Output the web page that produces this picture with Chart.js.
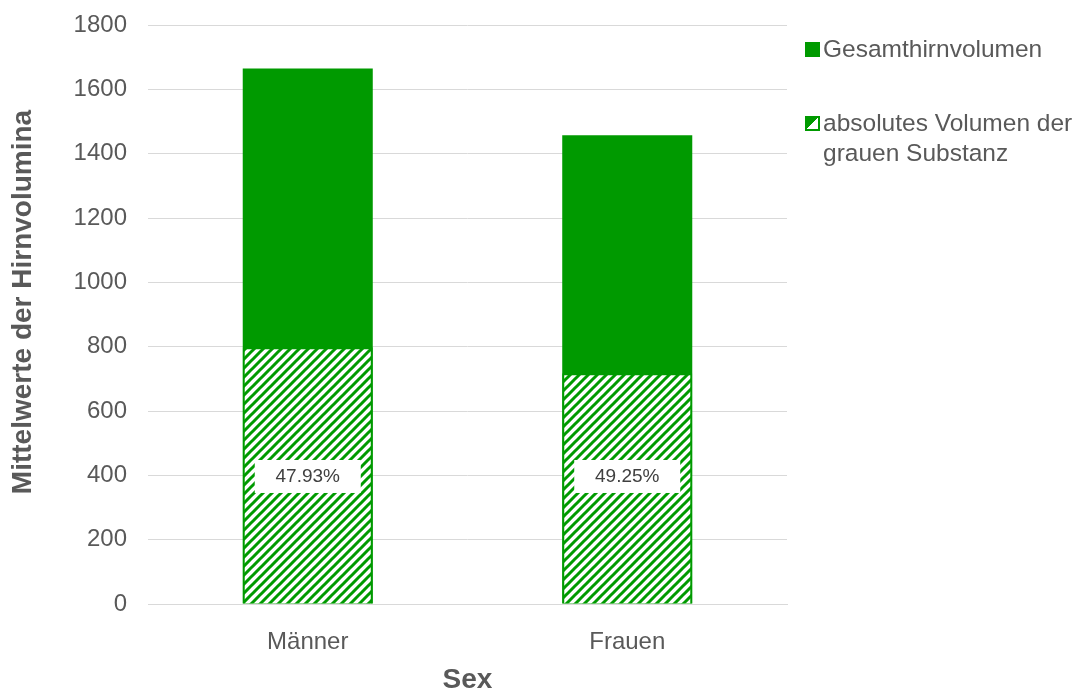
<!DOCTYPE html>
<html>
<head>
<meta charset="utf-8">
<script src="https://cdn.jsdelivr.net/npm/chart.js@4/dist/chart.umd.min.js"></script>
<style>
  html, body { margin: 0; padding: 0; background: #fff; }
  #wrap { position: relative; width: 1083px; height: 691px; }
  #legend { position: absolute; left: 0; top: 0; font-family: "Liberation Sans", Arial, sans-serif; font-size: 24.5px; color: #595959; }
  .item { position: absolute; left: 805px; white-space: nowrap; line-height: 30px; }
  .box { position: absolute; left: 0; width: 15px; height: 15px; box-sizing: border-box; }
  .txt { position: absolute; left: 18px; top: 0; }
</style>
</head>
<body>
<div id="wrap">
  <canvas id="brainChart" width="1083" height="691"></canvas>
  <div id="legend"></div>
</div>
<script>
var categories = ["Männer", "Frauen"];
var totalVolume = [1665, 1457];
var grayVolume = [798, 717.6];
var seriesNames = ["Gesamthirnvolumen", "absolutes Volumen der\ngrauen Substanz"];
var yTitle = "Mittelwerte der Hirnvolumina";
var green = "#009a00";
var textGray = "#595959";
var fontFamily = "'Liberation Sans', Arial, sans-serif";

// diagonal stripes for the gray matter bars
function makeHatch() {
    var c = document.createElement("canvas");
    c.width = 9; c.height = 9;
    var g = c.getContext("2d");
    g.fillStyle = "#fff";
    g.fillRect(0, 0, 9, 9);
    g.strokeStyle = green;
    g.lineWidth = 3;
    g.beginPath();
    g.moveTo(-2, 11); g.lineTo(11, -2);
    g.moveTo(-11, 11); g.lineTo(2, -2);
    g.moveTo(7, 11); g.lineTo(20, -2);
    g.stroke();
    return g.createPattern(c, "repeat");
}

// percentage boxes inside the hatched bars, plus the vertical axis title
var extras = {
    id: "extras",
    afterDatasetsDraw: function(chart) {
        var ctx = chart.ctx;
        var meta = chart.getDatasetMeta(1);
        var y = chart.scales.y.getPixelForValue(398);
        ctx.save();
        ctx.font = "19px " + fontFamily;
        ctx.textAlign = "center";
        ctx.textBaseline = "middle";
        meta.data.forEach(function(bar, i) {
            ctx.fillStyle = "#fff";
            ctx.fillRect(bar.x - 53, y - 16, 106, 33);
            ctx.fillStyle = "#404040";
            var pct = grayVolume[i] / totalVolume[i] * 100;
            ctx.fillText(pct.toFixed(2) + "%", bar.x, y + 1);
        });
        ctx.translate(23, 302);
        ctx.rotate(-Math.PI / 2);
        ctx.font = "bold 28px " + fontFamily;
        ctx.fillStyle = textGray;
        ctx.fillText(yTitle, 0, 0);
        ctx.restore();
    }
};

new Chart("brainChart", {
    type: "bar",
    data: {
        labels: categories,
        datasets: [{
            label: seriesNames[0],
            data: totalVolume,
            backgroundColor: green,
            grouped: false,
            order: 2,
            barPercentage: 0.407,
            categoryPercentage: 1
        }, {
            label: seriesNames[1],
            data: grayVolume,
            backgroundColor: makeHatch(),
            borderColor: green,
            borderWidth: 2,
            grouped: false,
            order: 1,
            barPercentage: 0.407,
            categoryPercentage: 1
        }]
    },
    options: {
        responsive: false,
        animation: false,
        layout: { padding: { top: 25, right: 296, left: 0, bottom: 0 } },
        plugins: {
            legend: { display: false },
            tooltip: { enabled: false }
        },
        scales: {
            x: {
                grid: { display: false },
                border: { color: "#d9d9d9" },
                ticks: { color: textGray, font: { family: fontFamily, size: 24 }, padding: 16 },
                title: { display: true, text: "Sex", color: textGray, font: { family: fontFamily, size: 28, weight: "bold", lineHeight: 0.8 }, padding: 0 },
                afterFit: function(s) { s.height = 87; }
            },
            y: {
                min: 0,
                max: 1800,
                ticks: {
                    stepSize: 200,
                    color: textGray,
                    font: { family: fontFamily, size: 24 },
                    padding: 21,
                    callback: function(v) { return String(v); }
                },
                grid: { color: "#d9d9d9", drawTicks: false },
                border: { display: false },
                afterFit: function(s) {
                    s.width = 148;
                    s.paddingTop = 0;
                    s.paddingBottom = 0;
                }
            }
        }
    },
    plugins: [extras]
});

// legend beside the plot
var legend = document.getElementById("legend");
var legendTops = [34, 108];
seriesNames.forEach(function(name, i) {
    var item = document.createElement("div");
    item.className = "item";
    item.style.top = legendTops[i] + "px";
    var box = document.createElement("span");
    box.className = "box";
    box.style.top = "8px";
    if (i === 0) {
        box.style.background = green;
    } else {
        box.style.border = "2px solid " + green;
        box.style.background = "linear-gradient(135deg, " + green + " 50%, #fff 50%)";
    }
    var txt = document.createElement("span");
    txt.className = "txt";
    txt.innerHTML = name.replace("\n", "<br>");
    item.appendChild(box);
    item.appendChild(txt);
    legend.appendChild(item);
});
</script>
</body>
</html>
